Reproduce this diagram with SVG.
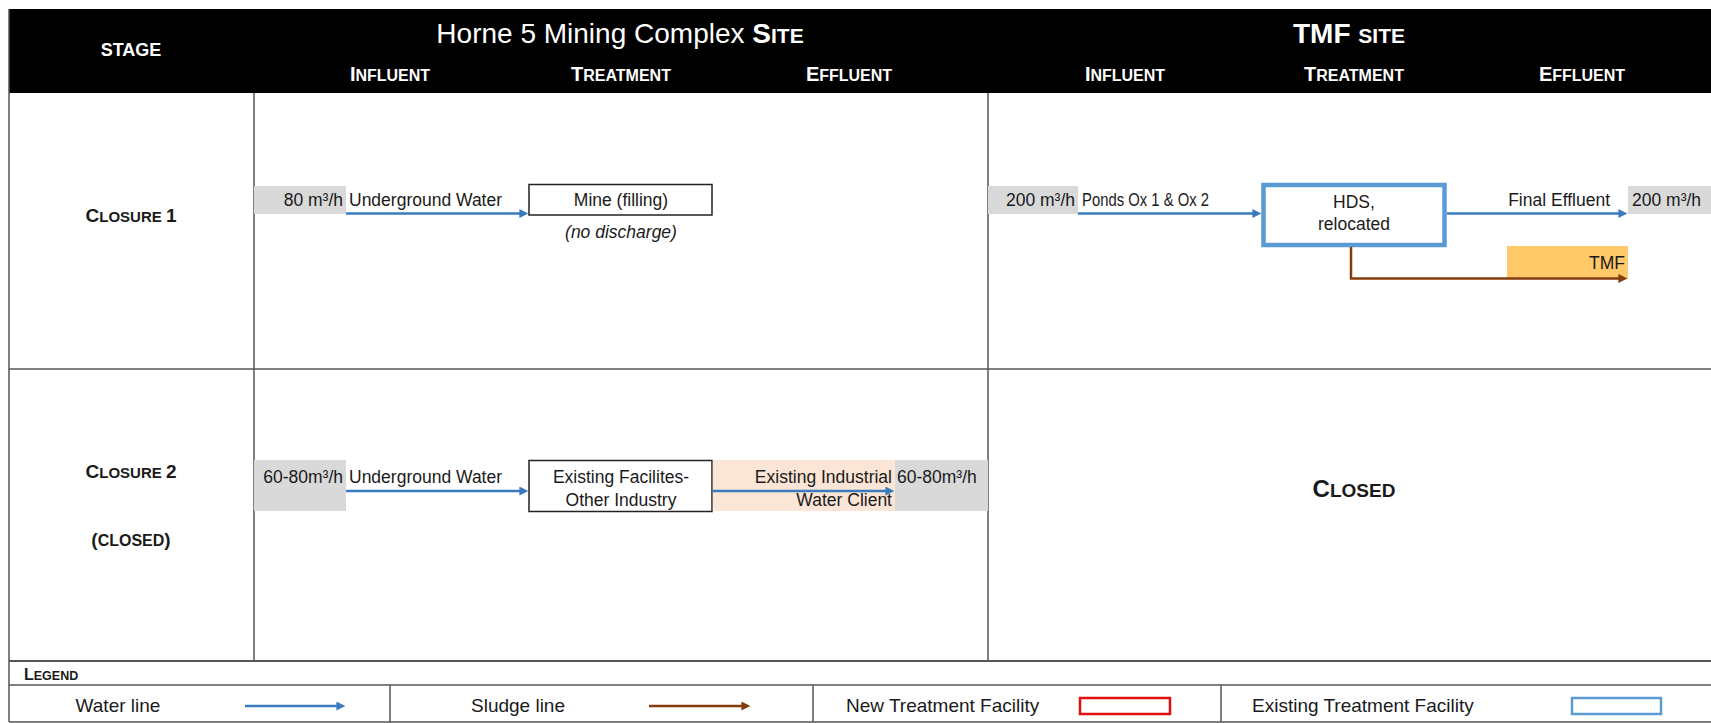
<svg xmlns="http://www.w3.org/2000/svg" width="1711" height="723" viewBox="0 0 1711 723">
<defs>
<style>
text{font-family:"Liberation Sans",Arial,sans-serif;fill:#1a1a1a}
.t{font-size:17.5px}
.lg{font-size:19px}
.h{fill:#fff;font-weight:bold}
.hw{fill:#fff}
.b{font-weight:bold}
.grid{stroke:#555;stroke-width:1.5;fill:none}
.gray{fill:#D9D9D9}
.water{stroke:#3A7BBF;stroke-width:2.5;fill:none;marker-end:url(#mb)}
.sludge{stroke:#843C0C;stroke-width:2.5;fill:none;marker-end:url(#mr)}
</style>
<marker id="mb" viewBox="0 0 10 10" refX="4" refY="5" markerWidth="10" markerHeight="9" markerUnits="userSpaceOnUse" orient="auto"><path d="M0,0 L10,5 L0,10 z" fill="#3A7BBF"/></marker>
<marker id="mr" viewBox="0 0 10 10" refX="4" refY="5" markerWidth="10" markerHeight="9" markerUnits="userSpaceOnUse" orient="auto"><path d="M0,0 L10,5 L0,10 z" fill="#843C0C"/></marker>
</defs>
<rect x="0" y="0" width="1711" height="723" fill="#fff"/>

<g id="table">
<rect x="9" y="9" width="1702" height="84" fill="#000"/>
<line class="grid" x1="9" y1="9" x2="9" y2="722"/>
<line class="grid" x1="254" y1="93" x2="254" y2="661"/>
<line class="grid" x1="988" y1="93" x2="988" y2="661"/>
<line class="grid" x1="9" y1="369" x2="1711" y2="369"/>
<line class="grid" x1="9" y1="661" x2="1711" y2="661" style="stroke-width:2"/>
<line class="grid" x1="9" y1="685" x2="1711" y2="685"/>
<line class="grid" x1="9" y1="722" x2="1711" y2="722"/>
<line class="grid" x1="390" y1="685" x2="390" y2="722"/>
<line class="grid" x1="813" y1="685" x2="813" y2="722"/>
<line class="grid" x1="1221" y1="685" x2="1221" y2="722"/>
</g>

<g id="header">
<text class="h" x="131" y="56" text-anchor="middle" style="font-size:18px">STAGE</text>
<text class="hw" x="620" y="43" text-anchor="middle" style="font-size:28px">Horne 5 Mining Complex <tspan class="h">S<tspan style="font-size:21px">ITE</tspan></tspan></text>
<text class="h" x="1349" y="43" text-anchor="middle" style="font-size:28px">TMF <tspan style="font-size:21px">SITE</tspan></text>
<text class="h" x="390" y="81" text-anchor="middle" style="font-size:16px"><tspan style="font-size:20px">I</tspan>NFLUENT</text>
<text class="h" x="621" y="81" text-anchor="middle" style="font-size:16px"><tspan style="font-size:20px">T</tspan>REATMENT</text>
<text class="h" x="849" y="81" text-anchor="middle" style="font-size:16px"><tspan style="font-size:20px">E</tspan>FFLUENT</text>
<text class="h" x="1125" y="81" text-anchor="middle" style="font-size:16px"><tspan style="font-size:20px">I</tspan>NFLUENT</text>
<text class="h" x="1354" y="81" text-anchor="middle" style="font-size:16px"><tspan style="font-size:20px">T</tspan>REATMENT</text>
<text class="h" x="1582" y="81" text-anchor="middle" style="font-size:16px"><tspan style="font-size:20px">E</tspan>FFLUENT</text>
</g>

<g id="stage-labels">
<text class="b" x="131" y="222" text-anchor="middle" style="font-size:15px"><tspan style="font-size:19px">C</tspan>LOSURE <tspan style="font-size:19px">1</tspan></text>
<text class="b" x="131" y="478" text-anchor="middle" style="font-size:15px"><tspan style="font-size:19px">C</tspan>LOSURE <tspan style="font-size:19px">2</tspan></text>
<text class="b" x="131" y="546" text-anchor="middle" style="font-size:16px"><tspan style="font-size:19px">(</tspan>CLOSED<tspan style="font-size:19px">)</tspan></text>
<text class="b" x="1354" y="497" text-anchor="middle" style="font-size:19px"><tspan style="font-size:24px">C</tspan>LOSED</text>
</g>

<g id="h5-c1-influent">
<rect class="gray" x="254" y="186" width="92" height="28"/>
<text class="t" x="343" y="206" text-anchor="end">80 m³/h</text>
<text class="t" x="349" y="206">Underground Water</text>
</g>
<g id="h5-c1-mine">
<rect x="529" y="184.5" width="183" height="30.5" fill="#fff" stroke="#222" stroke-width="1.5"/>
<text class="t" x="621" y="206" text-anchor="middle">Mine (filling)</text>
<text class="t" x="621" y="238" text-anchor="middle" font-style="italic">(no discharge)</text>
</g>

<g id="tmf-c1-influent">
<rect class="gray" x="988" y="186" width="90" height="28"/>
<text class="t" x="1075" y="206" text-anchor="end">200 m³/h</text>
<text class="t" x="1082" y="206" textLength="127" lengthAdjust="spacingAndGlyphs">Ponds Ox 1 &amp; Ox 2</text>
</g>
<g id="tmf-c1-hds">
<rect x="1263.5" y="185" width="181" height="60" fill="#fff" stroke="#5B9BD5" stroke-width="4.5"/>
<text class="t" x="1354" y="208" text-anchor="middle">HDS,</text>
<text class="t" x="1354" y="230" text-anchor="middle">relocated</text>
</g>
<g id="tmf-c1-effluent">
<text class="t" x="1610" y="206" text-anchor="end">Final Effluent</text>
<rect class="gray" x="1628" y="186" width="83" height="28"/>
<text class="t" x="1632" y="206">200 m³/h</text>
</g>
<g id="tmf-c1-tmf">
<rect x="1507" y="246" width="121" height="33" fill="#FFC869"/>
<text class="t" x="1625" y="269" text-anchor="end">TMF</text>
</g>

<g id="h5-c2-influent">
<rect class="gray" x="254" y="460" width="92" height="51"/>
<text class="t" x="343" y="483" text-anchor="end">60-80m³/h</text>
<text class="t" x="349" y="483">Underground Water</text>
</g>
<g id="h5-c2-existing">
<rect x="529" y="460.5" width="183" height="51" fill="#fff" stroke="#222" stroke-width="1.5"/>
<text class="t" x="621" y="483" text-anchor="middle">Existing Facilites-</text>
<text class="t" x="621" y="506" text-anchor="middle">Other Industry</text>
</g>
<g id="h5-c2-client">
<rect x="712.8" y="460" width="182.2" height="51" fill="#FBE5D6"/>
<text class="t" x="892" y="483" text-anchor="end">Existing Industrial</text>
<text class="t" x="892" y="506" text-anchor="end">Water Client</text>
</g>
<g id="h5-c2-effluent">
<rect class="gray" x="895" y="460" width="93" height="51"/>
<text class="t" x="897" y="483">60-80m³/h</text>
</g>

<g id="connectors">
<line class="water" x1="346" y1="213.5" x2="523" y2="213.5"/>
<line class="water" x1="1078" y1="213.5" x2="1256" y2="213.5"/>
<line class="water" x1="1447" y1="213.5" x2="1622" y2="213.5"/>
<path class="sludge" d="M1351,247 V278.5 H1622"/>
<line class="water" x1="346" y1="491" x2="523" y2="491"/>
<line class="water" x1="712" y1="491" x2="889" y2="491"/>
</g>

<g id="legend">
<text class="b" x="24" y="680" style="font-size:12.5px"><tspan style="font-size:16px">L</tspan>EGEND</text>
<text class="lg" x="118" y="712" text-anchor="middle">Water line</text>
<line class="water" x1="245" y1="706" x2="340" y2="706"/>
<text class="lg" x="518" y="712" text-anchor="middle">Sludge line</text>
<line class="sludge" x1="649" y1="706" x2="745" y2="706"/>
<text class="lg" x="846" y="712">New Treatment Facility</text>
<rect x="1080" y="698" width="90" height="16" fill="none" stroke="#E01010" stroke-width="2.5"/>
<text class="lg" x="1252" y="712">Existing Treatment Facility</text>
<rect x="1572" y="698" width="89" height="16" fill="none" stroke="#5B9BD5" stroke-width="2.5"/>
</g>
</svg>
